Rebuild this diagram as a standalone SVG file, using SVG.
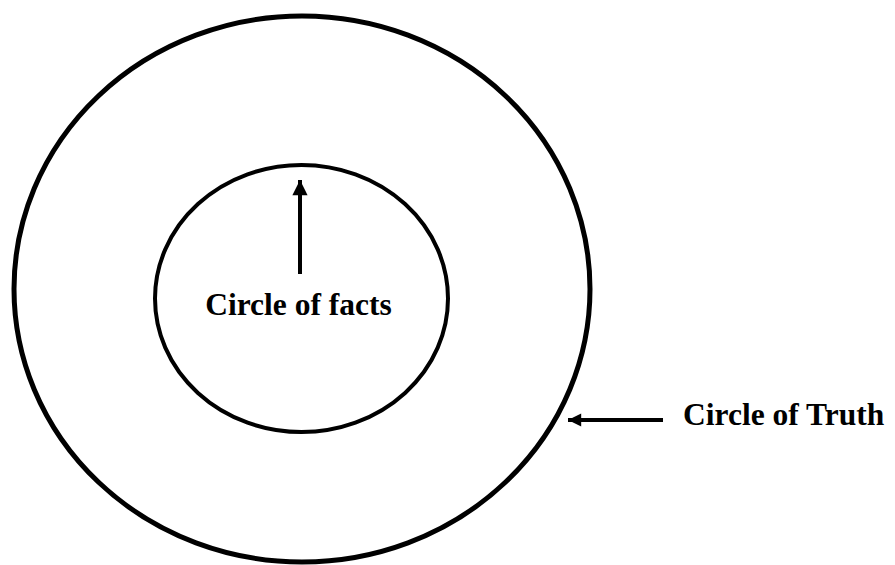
<svg xmlns="http://www.w3.org/2000/svg" width="895" height="565" viewBox="0 0 895 565">
<defs>
<style>
.ring{fill:none;stroke:#000}
.lbl{font-family:"Liberation Serif","Times New Roman",serif;font-weight:bold;font-size:31.5px;fill:#000}
.conn{stroke:#000;stroke-width:4;fill:none}
</style>
<marker id="ah" viewBox="0 0 10 10" refX="10" refY="5" markerWidth="4" markerHeight="3.8" markerUnits="strokeWidth" orient="auto">
<path d="M0,0 L10,5 L0,10 Z" fill="#000"/>
</marker>
<marker id="ah2" viewBox="0 0 10 10" refX="10" refY="5" markerWidth="4.3" markerHeight="3.3" markerUnits="strokeWidth" orient="auto">
<path d="M0,0 L10,5 L0,10 Z" fill="#000"/>
</marker>
</defs>
<g id="truth">
<ellipse class="ring" cx="302" cy="289" rx="288" ry="273" stroke-width="5"/>
<text class="lbl" x="683" y="425">Circle of Truth</text>
</g>
<g id="facts">
<ellipse class="ring" cx="301.5" cy="298.5" rx="146.5" ry="133.5" stroke-width="4"/>
<text class="lbl" x="298.5" y="315" text-anchor="middle">Circle of facts</text>
</g>
<g id="connectors">
<line class="conn" x1="300" y1="274" x2="300" y2="180" marker-end="url(#ah)"/>
<line class="conn" x1="663" y1="420" x2="568" y2="420" stroke-width="3.5" marker-end="url(#ah2)"/>
</g>
</svg>
